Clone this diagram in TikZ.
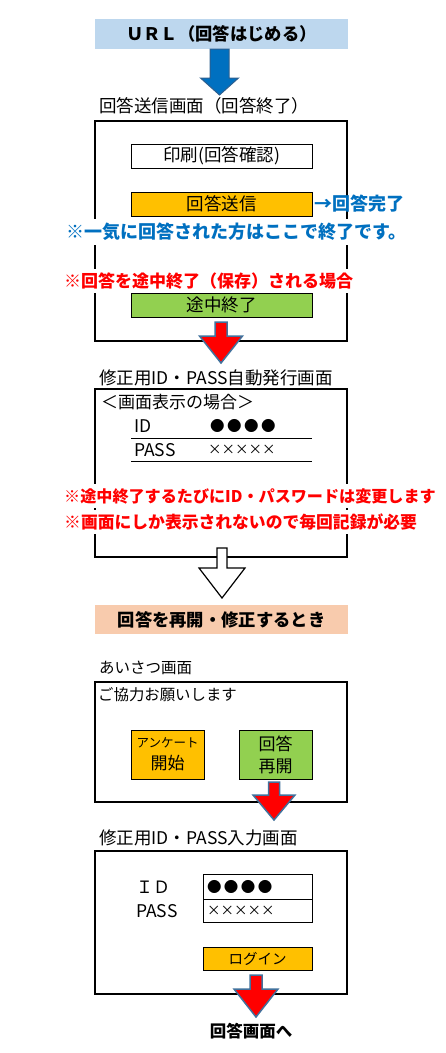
\documentclass[tikz,border=0pt]{standalone}
\usepackage{fontspec}
\setmainfont{Noto Sans CJK JP}
\usetikzlibrary{calc}
\definecolor{urlblue}{HTML}{BDD7EE}
\definecolor{resumepeach}{HTML}{F8CBAD}
\definecolor{btnorange}{HTML}{FFC000}
\definecolor{btngreen}{HTML}{92D050}
\definecolor{noteblue}{HTML}{0070C0}
\definecolor{notered}{HTML}{FF0000}
\definecolor{arrowedge}{HTML}{41719C}
\definecolor{blueedge}{HTML}{2E5F8F}
\tikzset{
  banner/.style={minimum width=253pt, minimum height=30pt, inner sep=0pt, font=\fontsize{17.3}{20}\bfseries\selectfont},
  screen/.style={draw, line width=1.2pt, minimum width=252pt, inner sep=0pt},
  title/.style={anchor=west, inner sep=0pt, font=\fontsize{17.5}{20}\selectfont},
  btn/.style={draw, line width=1pt, minimum width=181pt, minimum height=24pt, inner sep=1pt, font=\fontsize{17.5}{20}\selectfont},
  note/.style={anchor=west, fill=white, inner xsep=1pt, inner ysep=4pt, font=\fontsize{16.5}{19}\bfseries\selectfont},
  txt/.style={anchor=west, inner sep=0pt, font=\fontsize{17}{20}\selectfont},
  redarrow/.style={fill=notered, draw=arrowedge, line width=1.5pt, line join=miter},
}
% 块状箭头: 样式, 起点, 终点, 杆半宽, 头半宽, 头长
\newcommand{\bigarrow}[6]{%
  \filldraw[#1] ($(#2)+(-#4,0)$) -- ($(#2)+(#4,0)$) -- ($(#3)+(#4,-#6)$) -- ($(#3)+(#5,-#6)$)
    -- (#3) -- ($(#3)+(-#5,-#6)$) -- ($(#3)+(-#4,-#6)$) -- cycle;}
% 密码的点和叉
\newcommand{\pwdots}{{\fontsize{14.5}{18}\selectfont ●\kern2.5pt●\kern2.5pt●\kern2.5pt●}}
\newcommand{\pwcross}{{\fontsize{13.5}{18}\selectfont ×××××}}

\begin{document}
\begin{tikzpicture}[x=1pt, y=-1pt]
    \useasboundingbox (0,0) rectangle (446,1053);

    % 开始
    \node[banner, fill=urlblue] (url) at (221.5,34) {ＵＲＬ（回答はじめる）};
    \coordinate (a1top) at (219.5,49);
    \coordinate (a1tip) at (219.5,95);
    \bigarrow{fill=noteblue, draw=blueedge, line width=1pt}{a1top}{a1tip}{9.5}{19}{17}

    % 回答送信画面
    \node[title] (sendtitle) at (99,106) {回答送信画面（回答終了）};
    \node[screen, minimum height=220pt] (sendscr) at (221,231) {};
    \node[btn, fill=white] (print) at (221.5,156) {印刷(回答確認)};
    \node[btn, fill=btnorange] (send) at (221.5,204) {回答送信};
    \node[txt, text=noteblue, font=\fontsize{18}{20}\bfseries\selectfont] (done) at (314,204) {→回答完了};
    \node[note, text=noteblue, font=\fontsize{18}{20}\bfseries\selectfont] (onego) at (65,232) {※一気に回答された方はここで終了です。};
    \node[note, text=notered, font=\fontsize{17}{20}\bfseries\selectfont] (savecase) at (63,281) {※回答を途中終了（保存）される場合};
    \node[btn, fill=btngreen] (pause) at (221.5,305) {途中終了};
    \coordinate (a2top) at (221,322);
    \coordinate (a2tip) at (221,363);
    \bigarrow{redarrow}{a2top}{a2tip}{6}{21.5}{27}

    % 自动发行画面
    \node[title] (issuetitle) at (99,378) {修正用ID・PASS自動発行画面};
    \node[screen, minimum height=168pt] (issuescr) at (221,473) {};
    \node[txt] (shown) at (101,402) {＜画面表示の場合＞};
    \node[txt, font=\fontsize{17.5}{20}\selectfont] (idlabel) at (134,426) {ID};
    \node[txt] (iddots) at (210,426) {\pwdots};
    \draw[line width=1pt] (131,438) -- (312,438);
    \node[txt, font=\fontsize{17.5}{20}\selectfont] (passlabel) at (134,450) {PASS};
    \node[txt] (passx) at (208,450) {\pwcross};
    \draw[line width=1pt] (131,461) -- (312,461);
    \node[note, text=notered, font=\fontsize{16.1}{19}\bfseries\selectfont] (changes) at (63,496) {※途中終了するたびにID・パスワードは変更します};
    \node[note, text=notered, font=\fontsize{16.8}{19}\bfseries\selectfont] (record) at (63,522) {※画面にしか表示されないので毎回記録が必要};
    \coordinate (a3top) at (222,548);
    \coordinate (a3tip) at (222,598);
    \bigarrow{fill=white, draw=black, line width=1.2pt}{a3top}{a3tip}{5}{23}{30}

    % 再开
    \node[banner, fill=resumepeach, minimum height=29pt] (resume) at (221.5,619.5) {回答を再開・修正するとき};

    % 问候画面
    \node[title, font=\fontsize{15.5}{19}\selectfont] (greettitle) at (99,668) {あいさつ画面};
    \node[screen, minimum height=120pt] (greetscr) at (221,742) {};
    \node[txt, font=\fontsize{15.4}{19}\selectfont] (greet) at (98,695) {ご協力お願いします};
    \node[btn, fill=btnorange, minimum width=73pt, minimum height=49pt, align=center, font=\fontsize{17}{22}\selectfont] (survey) at (167.5,754.5) {{\fontsize{12.5}{15}\selectfont アンケート}\\開始};
    \node[btn, fill=btngreen, minimum width=73pt, minimum height=49pt, align=center, font=\fontsize{17}{22}\selectfont] (reopen) at (275.5,754.5) {回答\\再開};
    \coordinate (a4top) at (274,782);
    \coordinate (a4tip) at (274,820);
    \bigarrow{redarrow}{a4top}{a4tip}{5.5}{21}{25}

    % 输入画面
    \node[title] (inputtitle) at (99,838) {修正用ID・PASS入力画面};
    \node[screen, minimum height=143pt] (inputscr) at (221,922.5) {};
    \node[txt] (idin) at (136,887) {ＩＤ};
    \node[txt, font=\fontsize{17.5}{20}\selectfont] (passin) at (136,911) {PASS};
    \node[draw, line width=1pt, text width=101pt, inner xsep=4pt, inner ysep=0pt, minimum height=25pt, align=left] (idfield) at (257.5,886.5) {\pwdots};
    \node[draw, line width=1pt, text width=101pt, inner xsep=4pt, inner ysep=0pt, minimum height=23pt, align=left] (passfield) at (257.5,910.5) {\pwcross};
    \node[btn, fill=btnorange, minimum width=109pt, minimum height=23pt, font=\fontsize{14.5}{18}\selectfont] (login) at (257.5,958.5) {ログイン};
    \coordinate (a5top) at (256,975);
    \coordinate (a5tip) at (256,1017);
    \bigarrow{redarrow}{a5top}{a5tip}{6}{22}{28}
    \node[inner sep=0pt, font=\fontsize{16.5}{19}\bfseries\selectfont] (toanswer) at (251,1031) {回答画面へ};
\end{tikzpicture}
\end{document}
